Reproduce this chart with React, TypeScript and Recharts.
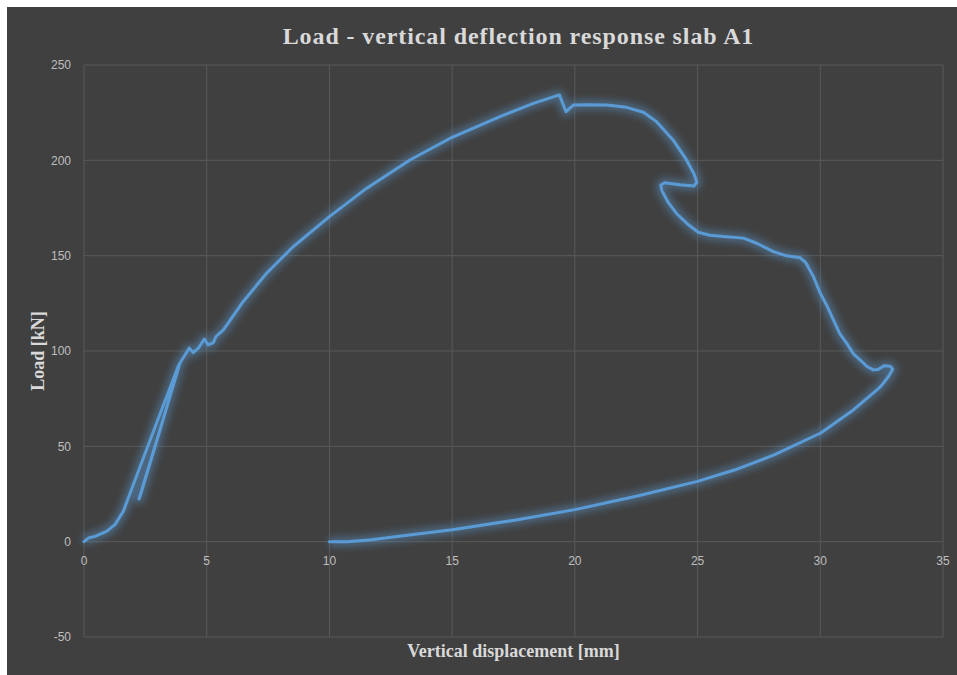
import { LineChart, Line, XAxis, YAxis, CartesianGrid } from 'recharts';

// initial loading branch, from the origin to the first unloading point
const loadingX = [0, 0.18, 0.45, 0.92, 1.26, 1.6, 2.1, 2.6, 3.1, 3.5, 3.84];
const loadingY = [0, 1.9, 2.8, 5.4, 8.9, 15.9, 33, 50, 67, 80.5, 92];

// partial unload
const unloadX = [3.9, 3.3, 2.75, 2.24];
const unloadY = [93.5, 67.5, 44, 22.4];

// reload and cracking steps
const reloadX = [2.3, 2.9, 3.5, 3.91, 4.12, 4.29, 4.45, 4.66, 4.9, 5.06, 5.27, 5.38, 5.68];
const reloadY = [24.5, 50, 76, 93.7, 98, 101.5, 99.2, 101.5, 106.2, 103.2, 104.4, 107.6, 111.1];

// main hardening branch up to the peak
const mainX = [6.49, 7.44, 8.53, 10, 11.52, 13.28, 15, 16.95, 18.31, 19.37];
const mainY = [126, 140.8, 154.8, 170.5, 185.4, 200.2, 212.1, 222.9, 229.9, 234.3];

// post-peak softening
const postPeakX = [
  19.64, 19.94, 20.5, 21.3, 22.1, 22.79, 23.33, 24.0, 24.55, 24.85, 24.97, 24.85, 24.28, 23.65,
  23.5, 23.55, 23.8, 24.15, 24.6, 25.03, 25.5, 26.05, 26.87, 27.41, 28.09, 28.63, 29.18, 29.4,
  29.72, 30.0, 30.26, 30.53, 30.8, 31.08, 31.35, 31.62, 31.89, 32.16, 32.35, 32.6, 32.85, 32.95,
  32.8, 32.5,
];
const postPeakY = [
  225.5, 229, 229.2, 229, 227.8, 225.2, 220.3, 210.7, 200.2, 193, 188.5, 186.5, 187.2, 188.3,
  187, 184, 178, 172, 166.5, 162.3, 160.7, 160, 159.2, 156.5, 152.1, 149.9, 148.9, 146.5,
  139, 130.3, 124, 116.4, 109, 104, 98.5, 95.4, 92, 90.1, 90.3, 92.2, 92, 90.5,
  87, 82,
];

// final unloading back to the residual deflection
const finalX = [32.32, 31.36, 30.02, 28.14, 26.53, 25, 22.5, 20, 17.66, 15, 12.84, 11.71, 10.74, 10];
const finalY = [79.7, 69.2, 57, 45.6, 37.7, 31.6, 23.8, 16.8, 11.5, 6.3, 2.8, 1, 0, 0];

const xTicks = [0, 5, 10, 15, 20, 25, 30, 35];
const yTicks = [-50, 0, 50, 100, 150, 200, 250];

const segments: [number[], number[]][] = [
  [loadingX, loadingY],
  [unloadX, unloadY],
  [reloadX, reloadY],
  [mainX, mainY],
  [postPeakX, postPeakY],
  [finalX, finalY],
];
const data = segments.flatMap(([xs, ys]) => xs.map((x, i) => ({ x, y: ys[i] })));

const W = 950;
const H = 668;
const MARGIN = { top: 58, right: 14, bottom: 0, left: 17 };
const X_AXIS_H = 38;
const PLOT_H = H - MARGIN.top - MARGIN.bottom - X_AXIS_H;
const Y_MIN = -50;
const Y_MAX = 250;

const LINE_COLOR = '#5b9bd5';
const TICK_COLOR = '#bfbfbf';
const TITLE_COLOR = '#d9d9d9';

// Excel puts the category labels where the value axis crosses zero
const XTick = ({ x, y, payload }: { x?: number; y?: number; payload?: { value: number } }) => {
  const zeroY = (y ?? 0) - (PLOT_H * (0 - Y_MIN)) / (Y_MAX - Y_MIN);
  return (
    <text
      x={x}
      y={zeroY + 23}
      textAnchor="middle"
      fill={TICK_COLOR}
      fontSize={12}
      fontFamily="Liberation Sans"
    >
      {payload?.value}
    </text>
  );
};

export default function App() {
  return (
    <div
      style={{
        position: 'absolute',
        left: 7,
        top: 7,
        width: W,
        height: H,
        background: '#404040',
        overflow: 'hidden',
      }}
    >
      <div
        style={{
          position: 'absolute',
          left: 0,
          top: 15,
          width: 1023,
          textAlign: 'center',
          fontFamily: 'Liberation Serif',
          fontWeight: 'bold',
          fontSize: 24,
          letterSpacing: 0.9,
          lineHeight: '28px',
          color: TITLE_COLOR,
        }}
      >
        Load - vertical deflection response slab A1
      </div>
      <LineChart width={W} height={H} data={data} margin={MARGIN}>
        <defs>
          <filter id="glow" x="-10%" y="-10%" width="120%" height="120%">
            <feGaussianBlur stdDeviation="3.5" />
          </filter>
        </defs>
        <CartesianGrid stroke="#595959" />
        <XAxis
          dataKey="x"
          type="number"
          domain={[0, 35]}
          ticks={xTicks}
          height={X_AXIS_H}
          axisLine={false}
          tickLine={false}
          tickSize={0}
          tickMargin={0}
          tick={<XTick />}
          label={{
            value: 'Vertical displacement [mm]',
            position: 'insideBottom',
            offset: 18,
            style: { fill: TITLE_COLOR, fontFamily: 'Liberation Serif', fontWeight: 'bold', fontSize: 18 },
          }}
        />
        <YAxis
          type="number"
          domain={[Y_MIN, Y_MAX]}
          ticks={yTicks}
          width={60}
          axisLine={false}
          tickLine={false}
          tickMargin={7}
          tick={{ fill: TICK_COLOR, fontSize: 12, fontFamily: 'Liberation Sans' }}
          label={{
            value: 'Load [kN]',
            angle: -90,
            position: 'insideLeft',
            offset: 14,
            style: {
              textAnchor: 'middle',
              fill: TITLE_COLOR,
              fontFamily: 'Liberation Serif',
              fontWeight: 'bold',
              fontSize: 18,
            },
          }}
        />
        <Line
          dataKey="y"
          type="linear"
          stroke={LINE_COLOR}
          strokeWidth={10}
          strokeOpacity={0.42}
          strokeLinejoin="round"
          filter="url(#glow)"
          dot={false}
          activeDot={false}
          isAnimationActive={false}
        />
        <Line
          dataKey="y"
          type="linear"
          stroke={LINE_COLOR}
          strokeWidth={3}
          strokeLinejoin="round"
          strokeLinecap="round"
          dot={false}
          activeDot={false}
          isAnimationActive={false}
        />
      </LineChart>
    </div>
  );
}
